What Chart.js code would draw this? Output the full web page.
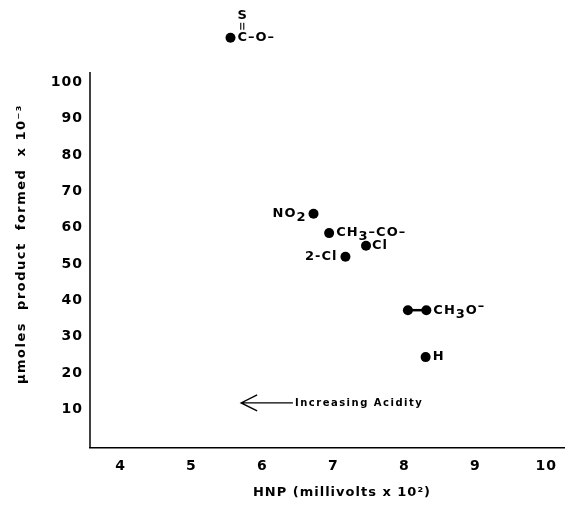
<!DOCTYPE html>
<html>
<head>
  <meta charset="utf-8">
  <title>HNP vs product formed</title>
  <script src="https://cdn.jsdelivr.net/npm/chart.js@4.4.1/dist/chart.umd.min.js"></script>
  <style>
    body { margin: 0; background: #fff; }
    #wrap { width: 569px; height: 506px; }
  </style>
</head>
<body>
  <div id="wrap"><canvas id="scatter"></canvas></div>

  <script>
    // substituent points
    const names = ['C=S', 'NO2', 'CH3-CO-', '2-Cl', 'Cl', 'H'];
    const hnp   = [5.55, 6.72, 6.94, 7.17, 7.46, 8.30];
    const umol  = [112.2, 63.8, 58.5, 52.0, 55.0, 24.4];

    // the CH3O- entry is drawn as two joined points
    const methoxyHnp  = [8.05, 8.31];
    const methoxyUmol = [37.3, 37.3];

    const xTicks = [4, 5, 6, 7, 8, 9, 10];
    const yTicks = [10, 20, 30, 40, 50, 60, 70, 80, 90, 100];
    const yAxisTop = 102.8;   // the drawn y axis stops here

    const FONT = 'DejaVu Sans';

    // label text as pieces: [text, shift] (shift > 0 = subscript, < 0 = superscript)
    const labelText = {
      'NO2':     [['NO', 0], ['2', 4]],
      'CH3-CO-': [['CH', 0], ['3', 4], ['\u2013CO\u2013', 0]],
      '2-Cl':    [['2-Cl', 0]],
      'Cl':      [['Cl', 0]],
      'H':       [['H', 0]],
      'CH3O-':   [['CH', 0], ['3', 4], ['O', 0], ['\u2013', -4]]
    };
    // where each label sits next to its dot
    const labelPlace = {
      'NO2':     { align: 'right', dx: -7, dy: 0 },
      'CH3-CO-': { align: 'left',  dx: 7,  dy: 0 },
      '2-Cl':    { align: 'right', dx: -8, dy: 0 },
      'Cl':      { align: 'left',  dx: 6,  dy: 0 },
      'H':       { align: 'left',  dx: 7,  dy: 0 },
      'CH3O-':   { align: 'left',  dx: 7,  dy: 0 }
    };

    function drawPieces(ctx, pieces, x, y, align) {
      ctx.font = 'bold 13px ' + FONT;
      ctx.textBaseline = 'middle';
      ctx.textAlign = 'left';
      let total = 0;
      pieces.forEach(p => { total += ctx.measureText(p[0]).width; });
      let cx = align === 'right' ? x - total : x;
      pieces.forEach(p => {
        ctx.fillText(p[0], cx, y + p[1]);
        cx += ctx.measureText(p[0]).width;
      });
    }

    const labelPlugin = {
      id: 'labels',
      beforeDraw(chart) {
        try { chart.ctx.letterSpacing = '1px'; } catch (e) {}
      },
      afterDraw(chart) {
        const ctx = chart.ctx;
        const xs = chart.scales.x, ys = chart.scales.y;
        const area = chart.chartArea;
        ctx.save();
        ctx.fillStyle = '#000';
        ctx.strokeStyle = '#000';
        try { ctx.letterSpacing = '1px'; } catch (e) {}

        // left axis line, stops short of the top
        ctx.lineWidth = 1.5;
        ctx.beginPath();
        ctx.moveTo(area.left, area.bottom);
        ctx.lineTo(area.left, ys.getPixelForValue(yAxisTop));
        ctx.stroke();

        names.forEach((n, i) => {
          const px = xs.getPixelForValue(hnp[i]);
          const py = ys.getPixelForValue(umol[i]);
          if (n === 'C=S') {
            // thiocarbonyl: S over C with a double bond
            ctx.font = 'bold 13px ' + FONT;
            ctx.textBaseline = 'middle';
            ctx.textAlign = 'left';
            const cx = px + 7;
            ctx.fillText('C\u2013O\u2013', cx, py);
            const cw = ctx.measureText('C').width - 1;
            const mid = cx + cw / 2;
            ctx.textAlign = 'center';
            ctx.fillText('S', mid + 0.5, py - 22);
            ctx.lineWidth = 1.1;
            ctx.beginPath();
            ctx.moveTo(mid - 1.5, py - 15); ctx.lineTo(mid - 1.5, py - 8);
            ctx.moveTo(mid + 1.5, py - 15); ctx.lineTo(mid + 1.5, py - 8);
            ctx.stroke();
            return;
          }
          const pl = labelPlace[n];
          drawPieces(ctx, labelText[n], px + pl.dx, py + pl.dy, pl.align);
        });

        const mx = xs.getPixelForValue(methoxyHnp[1]);
        const my = ys.getPixelForValue(methoxyUmol[1]);
        const mp = labelPlace['CH3O-'];
        drawPieces(ctx, labelText['CH3O-'], mx + mp.dx, my + mp.dy, mp.align);

        // arrow note
        const ax0 = xs.getPixelForValue(5.7), ax1 = xs.getPixelForValue(6.43);
        const ay = ys.getPixelForValue(11.8);
        ctx.lineWidth = 1.4;
        ctx.beginPath();
        ctx.moveTo(ax1, ay); ctx.lineTo(ax0, ay);
        ctx.moveTo(ax0 + 16, ay - 8); ctx.lineTo(ax0, ay); ctx.lineTo(ax0 + 16, ay + 8);
        ctx.stroke();
        ctx.font = 'bold 10px ' + FONT;
        try { ctx.letterSpacing = '1.5px'; } catch (e) {}
        ctx.textAlign = 'left';
        ctx.textBaseline = 'middle';
        ctx.fillText('Increasing Acidity', ax1 + 2, ay);

        // axis titles
        try { ctx.letterSpacing = '1px'; } catch (e) {}
        ctx.font = 'bold 13px ' + FONT;
        ctx.textAlign = 'center';
        ctx.fillText('HNP (millivolts x 10\u00b2)', 342, 493);

        try { ctx.letterSpacing = '1.5px'; } catch (e) {}
        ctx.translate(22, 244);
        ctx.rotate(-Math.PI / 2);
        ctx.font = 'bold 13px ' + FONT;
        ctx.fillText('\u00b5moles  product  formed  x 10\u207b\u00b3', 0, 0);
        ctx.restore();
      }
    };

    const config = {
      type: 'scatter',
      data: {
        datasets: [{
          data: hnp.map((x, i) => ({ x: x, y: umol[i] })),
          backgroundColor: '#000',
          borderColor: '#000',
          pointRadius: 5,
          pointBorderWidth: 0
        }, {
          data: methoxyHnp.map((x, i) => ({ x: x, y: methoxyUmol[i] })),
          backgroundColor: '#000',
          borderColor: '#000',
          borderWidth: 2.5,
          pointBorderWidth: 0,
          pointRadius: 5,
          showLine: true
        }]
      },
      options: {
        responsive: true,
        maintainAspectRatio: false,
        animation: false,
        layout: { padding: { top: 24, right: 0, left: 0, bottom: 0 } },
        plugins: { legend: { display: false }, tooltip: { enabled: false } },
        scales: {
          x: {
            type: 'linear',
            min: 3.57, max: 10.25,
            grid: { display: false, drawTicks: false },
            border: { display: true, color: '#000', width: 1.5 },
            afterBuildTicks: s => { s.ticks = xTicks.map(v => ({ value: v })); },
            afterFit: s => { s.height = 58; },
            ticks: {
              color: '#000', padding: 10,
              font: { family: FONT, size: 14, weight: 'bold' }
            }
          },
          y: {
            type: 'linear',
            min: -0.6, max: 116,
            grid: { display: false, drawTicks: false },
            border: { display: false },
            afterBuildTicks: s => { s.ticks = yTicks.map(v => ({ value: v })); },
            afterFit: s => { s.width = 90; },
            ticks: {
              color: '#000', padding: 7,
              font: { family: FONT, size: 14, weight: 'bold' }
            }
          }
        }
      },
      plugins: [labelPlugin]
    };

    new Chart(document.getElementById('scatter'), config);
  </script>
</body>
</html>
